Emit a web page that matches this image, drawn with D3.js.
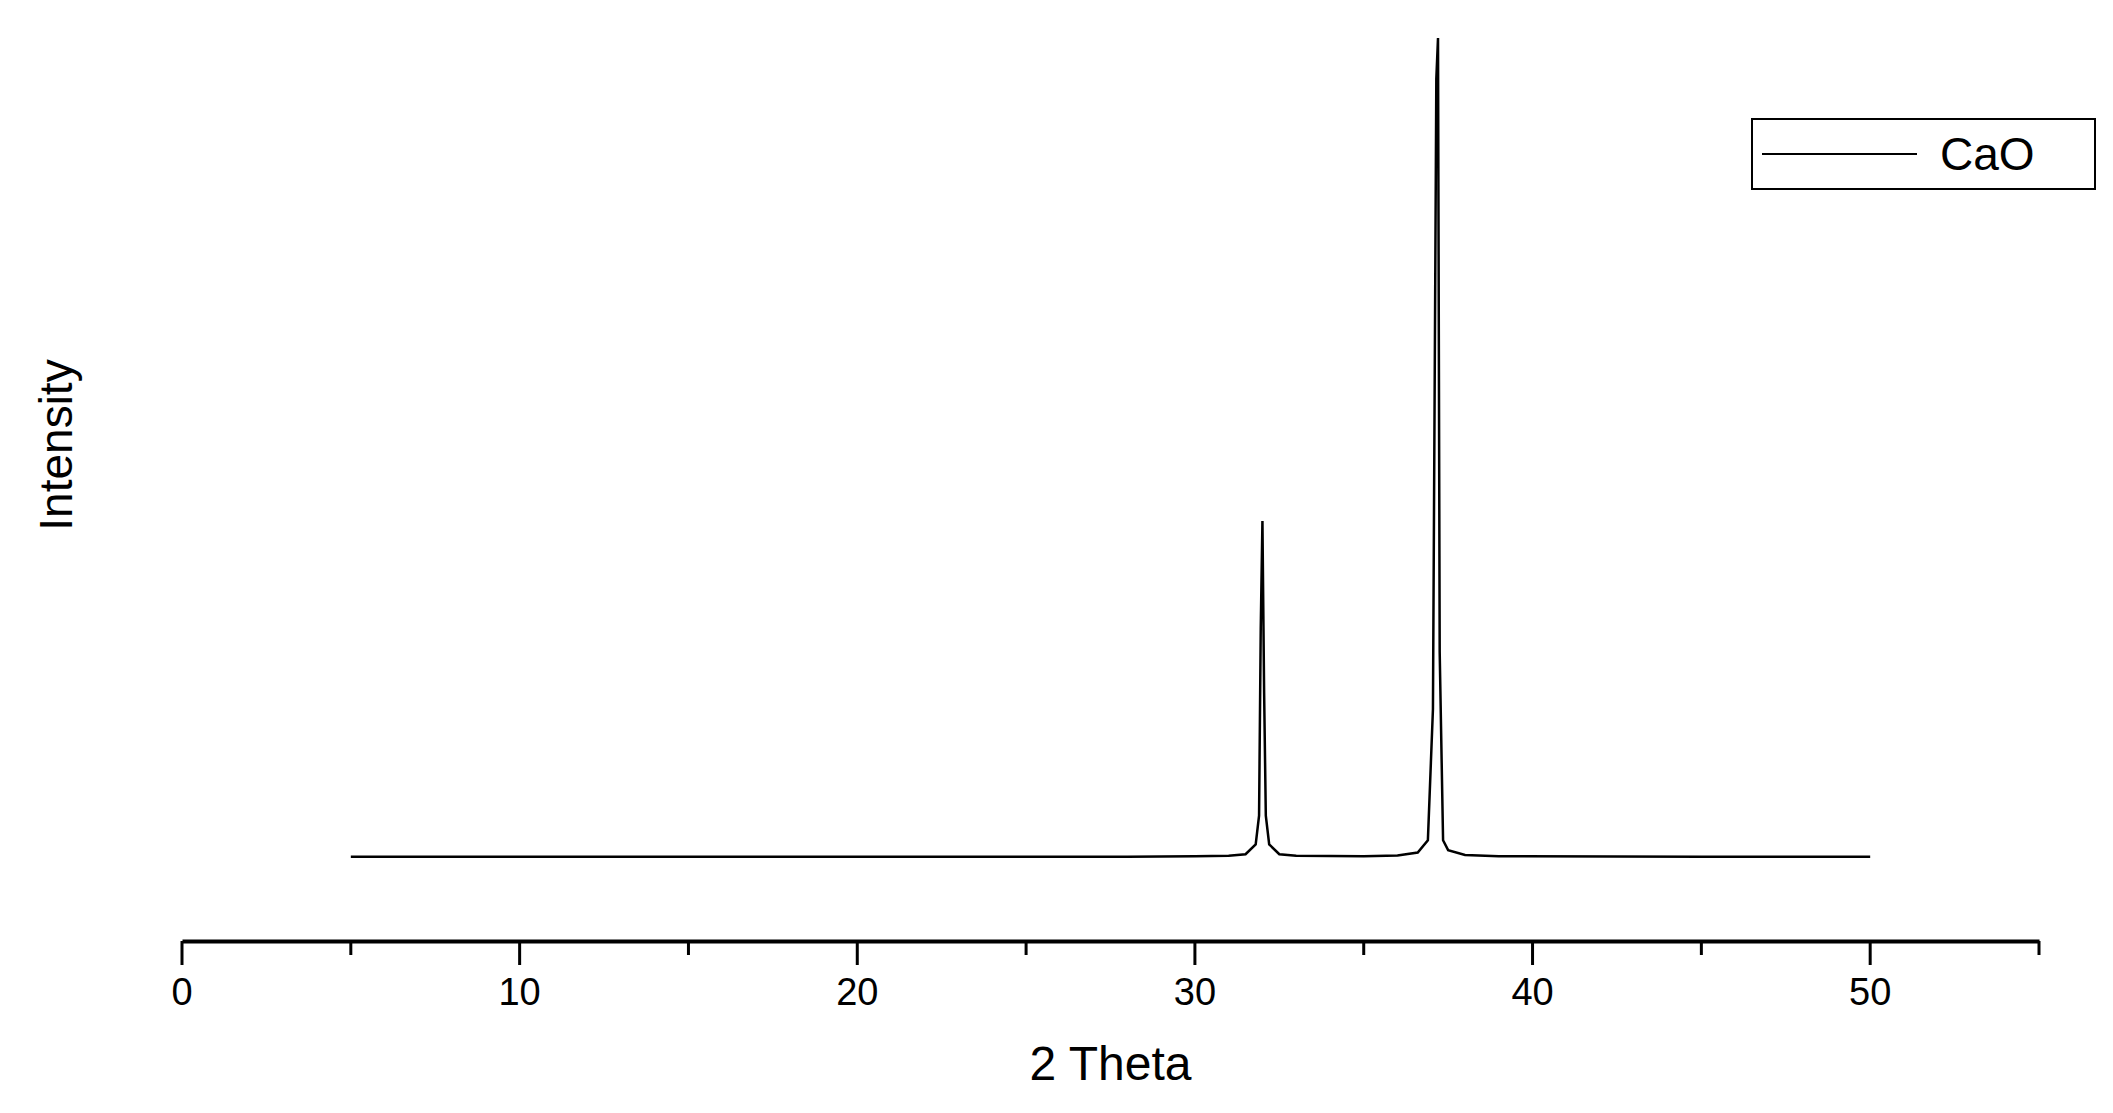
<!DOCTYPE html>
<html><head><meta charset="utf-8">
<script src="https://cdn.jsdelivr.net/npm/d3@7"></script>
<style>body{margin:0;background:#fff}text{font-family:"Liberation Sans",Arial,sans-serif}</style>
</head><body><div id="chart"></div>
<script>
// 2 Theta positions and intensity (arb. units)
const twoTheta = [5, 20, 28, 30, 31, 31.5, 31.8, 31.9, 31.95, 32.0, 32.05, 32.1, 32.2, 32.5, 33, 35, 36, 36.6, 36.9, 37.05, 37.15, 37.2, 37.25, 37.35, 37.5, 38, 39, 45, 50];
const intensity = [0, 0, 0, 0.05, 0.1, 0.3, 1.5, 5, 28, 41, 20, 5, 1.5, 0.3, 0.1, 0.05, 0.15, 0.5, 2, 18, 95, 100, 25, 2, 0.8, 0.2, 0.05, 0, 0];
const xTicks = [0, 10, 20, 30, 40, 50];
const seriesName = "CaO";

const W = 2113, H = 1113;
const svg = d3.select("#chart").append("svg").attr("width", W).attr("height", H);

const x = d3.scaleLinear().domain([0, 55]).range([182, 2039]);
const y = d3.scaleLinear().domain([-10.3, 100]).range([941, 38]);

// x axis
const ax = svg.append("g").attr("transform", `translate(0,941)`)
    .call(d3.axisBottom(x).tickValues(d3.range(0, 56, 5)).tickSize(0).tickFormat(""));
ax.select(".domain").attr("stroke", "#000").attr("stroke-width", 4);
ax.selectAll(".tick line").remove();
svg.selectAll(".tk").data(d3.range(0, 56, 5)).join("line")
    .attr("x1", d => x(d)).attr("x2", d => x(d))
    .attr("y1", 941).attr("y2", d => d % 10 === 0 ? 965 : 955)
    .attr("stroke", "#000").attr("stroke-width", 3);
svg.selectAll(".tl").data(xTicks).join("text")
    .attr("x", d => x(d)).attr("y", 1005).attr("text-anchor", "middle")
    .attr("font-size", 38).text(d => d);

svg.append("text").attr("x", x(27.5)).attr("y", 1080).attr("text-anchor", "middle")
    .attr("font-size", 48).text("2 Theta");
svg.append("text").attr("transform", "translate(72,445) rotate(-90)")
    .attr("text-anchor", "middle").attr("font-size", 46).text("Intensity");

// data line
svg.append("path").datum(twoTheta.map((d, i) => [d, intensity[i]]))
    .attr("fill", "none").attr("stroke", "#000").attr("stroke-width", 2.5)
    .attr("d", d3.line().x(d => x(d[0])).y(d => y(d[1])));

// legend
const lg = svg.append("g");
lg.append("rect").attr("x", 1752).attr("y", 119).attr("width", 343).attr("height", 70)
    .attr("fill", "#fff").attr("stroke", "#000").attr("stroke-width", 2);
lg.append("line").attr("x1", 1762).attr("x2", 1917).attr("y1", 154).attr("y2", 154)
    .attr("stroke", "#000").attr("stroke-width", 2);
lg.append("text").attr("x", 1940).attr("y", 170).attr("font-size", 46).text(seriesName);
</script></body></html>
